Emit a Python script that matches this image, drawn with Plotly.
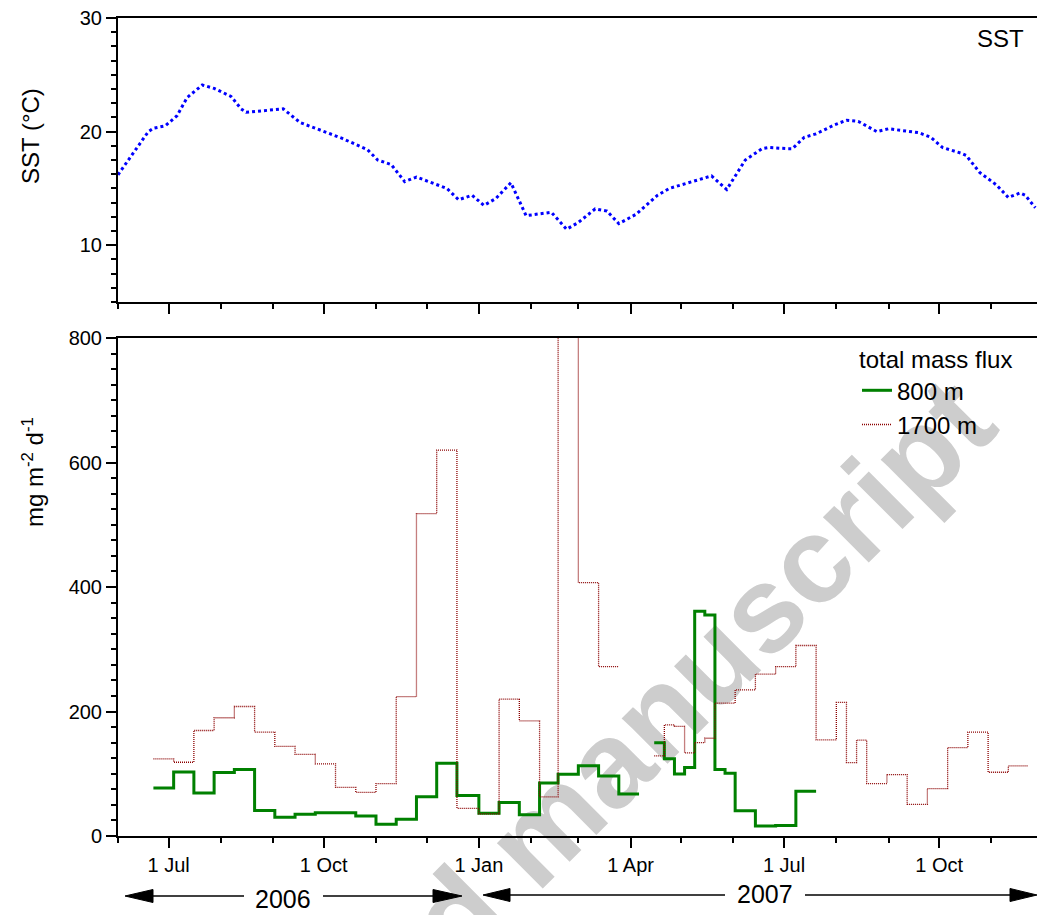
import plotly.graph_objects as go

# ---------------- data ----------------
# Sea surface temperature (top panel)
sst_dates = [
    "2006-06-01", "2006-06-19", "2006-06-22", "2006-06-29", "2006-07-06", "2006-07-12",
    "2006-07-21", "2006-07-28", "2006-08-07", "2006-08-13", "2006-08-16", "2006-09-07",
    "2006-09-17", "2006-09-24", "2006-10-05", "2006-10-12", "2006-10-27", "2006-11-02",
    "2006-11-10", "2006-11-18", "2006-11-25", "2006-12-02", "2006-12-13", "2006-12-20",
    "2006-12-28", "2007-01-04", "2007-01-11", "2007-01-20", "2007-01-29", "2007-02-13",
    "2007-02-22", "2007-03-01", "2007-03-11", "2007-03-18", "2007-03-25", "2007-04-04",
    "2007-04-17", "2007-04-24", "2007-05-19", "2007-05-28", "2007-06-08", "2007-06-18",
    "2007-06-22", "2007-07-03", "2007-07-06", "2007-07-13", "2007-07-20", "2007-07-31",
    "2007-08-07", "2007-08-14", "2007-08-22", "2007-08-25", "2007-09-01", "2007-09-19",
    "2007-09-26", "2007-10-03", "2007-10-14", "2007-10-17", "2007-10-25", "2007-11-04",
    "2007-11-11", "2007-11-18", "2007-11-21", "2007-11-27",
]
sst_values = [
    16.2, 20.0, 20.3, 20.5, 21.4, 23.0,
    24.1, 23.8, 23.1, 22.0, 21.7, 22.0,
    20.8, 20.4, 19.8, 19.4, 18.4, 17.5,
    17.1, 15.6, 16.0, 15.6, 15.0, 14.0,
    14.4, 13.5, 14.1, 15.5, 12.6, 12.9,
    11.4, 12.0, 13.2, 13.0, 11.9, 12.7,
    14.4, 15.0, 16.1, 14.9, 17.5, 18.5,
    18.6, 18.5, 18.5, 19.5, 19.8, 20.6,
    21.0, 20.9, 20.2, 20.0, 20.25, 19.9,
    19.5, 18.6, 18.1, 17.9, 16.4, 15.3,
    14.2, 14.6, 14.4, 13.3,
]

# Sediment-trap sampling-interval boundaries
bounds_2006 = [
    "2006-06-22", "2006-07-04", "2006-07-16", "2006-07-28", "2006-08-09", "2006-08-21",
    "2006-09-02", "2006-09-14", "2006-09-26", "2006-10-08", "2006-10-20", "2006-11-01",
    "2006-11-13", "2006-11-25", "2006-12-07", "2006-12-19", "2007-01-01", "2007-01-13",
    "2007-01-25", "2007-02-06", "2007-02-17", "2007-03-01", "2007-03-13", "2007-03-25",
    "2007-04-06",
]
bounds_2007 = [
    "2007-04-15", "2007-04-21", "2007-04-27", "2007-05-03", "2007-05-09", "2007-05-15",
    "2007-05-21", "2007-05-27", "2007-06-02", "2007-06-14", "2007-06-26", "2007-07-08",
    "2007-07-20", "2007-08-01", "2007-08-07", "2007-08-13", "2007-08-19", "2007-08-31",
    "2007-09-12", "2007-09-24", "2007-10-06", "2007-10-18", "2007-10-30", "2007-11-11",
    "2007-11-23",
]

# total mass flux, mg m-2 d-1, one value per sampling interval
flux800_2006 = [77, 103, 69, 102, 107, 41, 30, 35, 37.5, 37.5, 32, 19,
                27, 63, 117, 65, 36.5, 54, 34, 85, 99, 113, 96.5, 67.5]
flux800_2007 = [150, 124, 99.5, 110, 361, 355, 107, 101, 40.5, 16, 17, 72]
flux1700_2006 = [124, 118.5, 169.5, 190, 208, 167, 144, 131, 116, 78, 70, 84,
                 224, 518, 620, 44.5, 35.5, 220, 185, 63, 1000, 407, 272]
flux1700_2007 = [128.6, 178.5, 176, 133.5, 150, 157, 213.5, 213.5, 234.8, 260, 272.2, 306,
                 154.3, 214.5, 118, 154, 84.2, 98.7, 50.9, 76.1, 142, 166.8, 102.4, 112.6]

# ---------------- helpers ----------------
def step(bounds, values):
    xs = list(bounds[:len(values) + 1])
    ys = list(values) + [values[-1]]
    return xs, ys


def join(*parts):
    X, Y = [], []
    for i, (xs, ys) in enumerate(parts):
        if i:
            X.append(None)
            Y.append(None)
        X += xs
        Y += ys
    return X, Y


x800, y800 = join(step(bounds_2006, flux800_2006), step(bounds_2007, flux800_2007))
x1700, y1700 = join(step(bounds_2006, flux1700_2006), step(bounds_2007, flux1700_2007))

FONT = "Liberation Sans, Arial, sans-serif"
W, H = 1038, 915
ML, MR, MT, MB = 118, 1, 18, 79
PW, PH = W - ML - MR, H - MT - MB


def px(x):
    return (x - ML) / PW


def py(y):
    return (H - MB - y) / PH


fig = go.Figure()

fig.add_trace(go.Scatter(
    x=sst_dates, y=sst_values, xaxis="x", yaxis="y", mode="lines",
    line=dict(color="#0000ff", width=3, dash="dot"), showlegend=False, name="SST"))

fig.add_trace(go.Scatter(
    x=x800, y=y800, xaxis="x2", yaxis="y2", mode="lines", line_shape="hv",
    line=dict(color="#008000", width=3), name="800 m", connectgaps=False))

fig.add_trace(go.Scatter(
    x=x1700, y=y1700, xaxis="x2", yaxis="y2", mode="lines", line_shape="hv",
    line=dict(color="#8b0000", width=1.3, dash="1px,1px"), name="1700 m", connectgaps=False))

xrange = ["2006-06-01", "2007-11-28"]
common_x = dict(
    range=xrange, type="date", dtick="M3", tick0="2006-07-01", ticks="outside",
    ticklen=10, tickwidth=2, tickcolor="black", showline=True, linewidth=2,
    linecolor="black", mirror=True, showgrid=False, zeroline=False,
    tickformat="%-d %b", tickfont=dict(family=FONT, size=20, color="black"),
    minor=dict(dtick="M1", tick0="2006-06-01", ticks="outside", ticklen=5,
               tickwidth=1.5, tickcolor="black", showgrid=False),
)
top_dom = [py(302), 1.0]
bot_dom = [0.0, py(338)]

fig.update_layout(
    width=W, height=H,
    margin=dict(l=ML, r=MR, t=MT, b=MB),
    paper_bgcolor="white", plot_bgcolor="rgba(0,0,0,0)",
    font=dict(family=FONT, size=20, color="black"),
    xaxis=dict(common_x, anchor="y", showticklabels=False, matches="x2"),
    xaxis2=dict(common_x, anchor="y2"),
    yaxis=dict(domain=top_dom, range=[5, 30], dtick=10, tick0=0, ticks="outside",
               ticklen=10, tickwidth=2, tickcolor="black", showline=True, linewidth=2,
               linecolor="black", showgrid=False, zeroline=False,
               tickfont=dict(family=FONT, size=20, color="black"),
               minor=dict(dtick=1.25, ticks="outside", ticklen=5, tickwidth=1.5,
                          tickcolor="black", showgrid=False)),
    yaxis2=dict(domain=bot_dom, range=[0, 800], dtick=200, tick0=0, ticks="outside",
                ticklen=10, tickwidth=2, tickcolor="black", showline=True, linewidth=2,
                linecolor="black", showgrid=False, zeroline=False,
                tickfont=dict(family=FONT, size=20, color="black"),
                minor=dict(dtick=25, ticks="outside", ticklen=5, tickwidth=1.5,
                           tickcolor="black", showgrid=False)),
    legend=dict(x=px(857), y=py(337), xanchor="left", yanchor="top",
                bgcolor="rgba(0,0,0,0)", font=dict(family=FONT, size=24),
                title=dict(text="total mass flux", font=dict(family=FONT, size=24)),
                itemwidth=30, tracegroupgap=0),
)

ann = [
    dict(text="SST", x=px(1026), y=py(38), xanchor="right", yanchor="middle",
         font=dict(size=24)),
    dict(text="SST (°C)", x=px(30), y=py(136), textangle=-90, xanchor="center",
         yanchor="middle", font=dict(size=24)),
    dict(text="mg m<sup>-2</sup> d<sup>-1</sup>", x=px(33), y=py(472), textangle=-90,
         xanchor="center", yanchor="middle", font=dict(size=24)),
    dict(text="2006", x=px(283), y=py(899), xanchor="center", yanchor="middle",
         font=dict(size=25)),
    dict(text="2007", x=px(765), y=py(894), xanchor="center", yanchor="middle",
         font=dict(size=25)),
]
for a in ann:
    a.update(xref="paper", yref="paper", showarrow=False)
fig.update_layout(annotations=ann)

shapes = []


def hline(x0, x1, y):
    shapes.append(dict(type="line", xref="paper", yref="paper", x0=px(x0), x1=px(x1),
                       y0=py(y), y1=py(y), line=dict(color="black", width=1.5)))


def head(tip, base, y, half=6.5):
    path = "M {},{} L {},{} L {},{} Z".format(px(tip), py(y), px(base), py(y - half),
                                             px(base), py(y + half))
    shapes.append(dict(type="path", xref="paper", yref="paper", path=path,
                       fillcolor="black", line=dict(color="black", width=1)))


hline(150, 244, 896)
hline(323, 436, 896)
head(125, 153, 896)
head(462, 433, 896)
hline(508, 725, 895)
hline(805, 1012, 895)
head(483, 510, 895)
head(1037, 1010, 895)

# watermark of the source document, behind the data
shapes.append(dict(
    type="line", xref="paper", yref="paper", layer="below",
    x0=px(313), y0=py(1042), x1=px(737), y1=py(618),
    line=dict(color="rgba(0,0,0,0)", width=0),
    label=dict(text="Accepted manuscript", textposition="middle", textangle=-45,
               yanchor="middle", padding=0,
               font=dict(family=FONT, size=122, color="#cdcdcd", weight="bold")),
))
fig.update_layout(shapes=shapes)

fig.write_html("out.html", config={"displayModeBar": False},
               post_script="document.body.style.margin='0';")
